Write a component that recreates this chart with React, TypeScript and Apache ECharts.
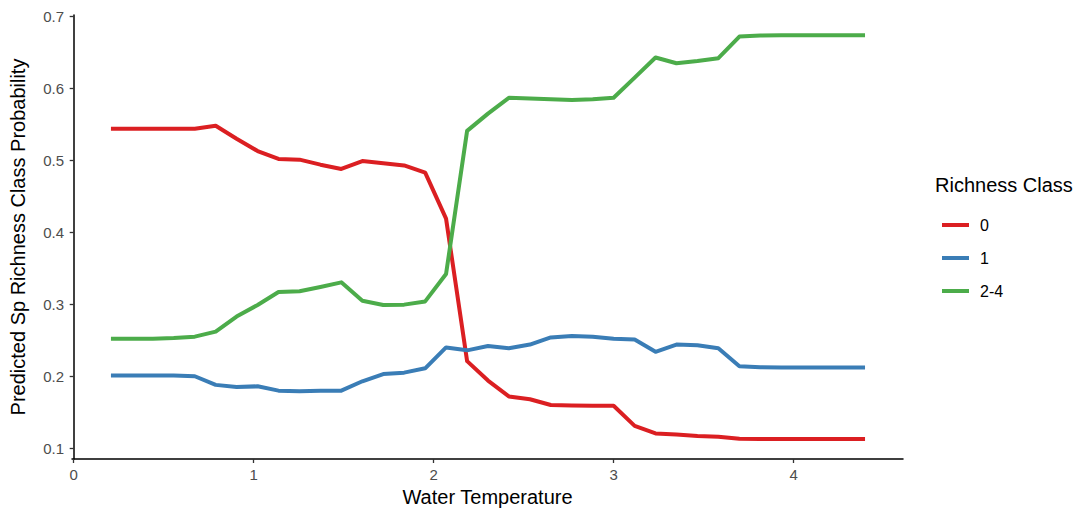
import React, { useEffect, useRef } from "react";
import * as echarts from "echarts";

const waterTemp = [
  0.207, 0.323, 0.44, 0.556, 0.673, 0.789, 0.905, 1.022, 1.138, 1.255, 1.371, 1.487,
  1.604, 1.72, 1.836, 1.953, 2.069, 2.186, 2.302, 2.418, 2.535, 2.651, 2.768, 2.884,
  3.0, 3.117, 3.233, 3.349, 3.466, 3.582, 3.699, 3.815, 3.931, 4.048, 4.164, 4.281, 4.397,
];

const class0 = [
  0.544, 0.544, 0.544, 0.544, 0.544, 0.548, 0.53, 0.513, 0.502, 0.501, 0.494, 0.488,
  0.499, 0.496, 0.493, 0.483, 0.419, 0.221, 0.194, 0.172, 0.168, 0.16, 0.1595, 0.159,
  0.159, 0.131, 0.1205, 0.119, 0.117, 0.116, 0.113, 0.1127, 0.1127, 0.1127, 0.1127, 0.1127, 0.1127,
];

const class1 = [
  0.201, 0.201, 0.201, 0.201, 0.2, 0.188, 0.185, 0.186, 0.18, 0.179, 0.18, 0.18,
  0.193, 0.203, 0.205, 0.211, 0.24, 0.236, 0.242, 0.239, 0.244, 0.254, 0.256, 0.255,
  0.252, 0.251, 0.234, 0.244, 0.243, 0.239, 0.214, 0.2125, 0.212, 0.212, 0.212, 0.212, 0.212,
];

const class24 = [
  0.252, 0.252, 0.252, 0.253, 0.255, 0.262, 0.283, 0.299, 0.317, 0.318, 0.324, 0.3305,
  0.305, 0.299, 0.2995, 0.304, 0.342, 0.541, 0.565, 0.587, 0.586, 0.585, 0.584, 0.585,
  0.587, 0.615, 0.643, 0.635, 0.638, 0.642, 0.672, 0.6735, 0.674, 0.674, 0.674, 0.674, 0.674,
];

const classNames = ["0", "1", "2-4"];
const classColors = ["#DB1F22", "#3A7DB6", "#4CAC4A"];
const yTicks = [0.1, 0.2, 0.3, 0.4, 0.5, 0.6, 0.7];
const xTicks = [0, 1, 2, 3, 4];

const FONT = "'Liberation Sans', Arial, Helvetica, sans-serif";

export default function App() {
  const ref = useRef<HTMLDivElement>(null);

  useEffect(() => {
    if (!ref.current) return;
    const chart = echarts.init(ref.current, null, { renderer: "svg" });
    const seriesValues = [class0, class1, class24];
    chart.setOption({
      animation: false,
      backgroundColor: "#ffffff",
      textStyle: { fontFamily: FONT },
      grid: { left: 70, top: 15, width: 833, height: 444, containLabel: false },
      xAxis: {
        type: "value",
        min: -0.0094,
        max: 4.608,
        name: "Water Temperature",
        nameLocation: "middle",
        nameGap: 25,
        nameTextStyle: { fontSize: 20, color: "#000000", fontFamily: FONT },
        axisLine: { show: true, lineStyle: { color: "#000000", width: 1.5 } },
        axisTick: {
          show: true,
          length: 4,
          lineStyle: { color: "#333333", width: 1.3 },
          customValues: xTicks,
        },
        axisLabel: {
          fontSize: 15,
          color: "#4D4D4D",
          margin: 8,
          fontFamily: FONT,
          customValues: xTicks,
          formatter: (v: number) => String(v),
        },
        splitLine: { show: false },
      },
      yAxis: {
        type: "value",
        min: 0.085,
        max: 0.702,
        name: "Predicted Sp Richness Class Probability",
        nameLocation: "middle",
        nameGap: 44,
        nameRotate: 90,
        nameTextStyle: { fontSize: 20, color: "#000000", fontFamily: FONT },
        axisLine: { show: true, lineStyle: { color: "#000000", width: 1.5 } },
        axisTick: {
          show: true,
          length: 4,
          lineStyle: { color: "#333333", width: 1.3 },
          customValues: yTicks,
        },
        axisLabel: {
          fontSize: 15,
          color: "#4D4D4D",
          margin: 8,
          fontFamily: FONT,
          customValues: yTicks,
          formatter: (v: number) => v.toFixed(1),
        },
        splitLine: { show: false },
      },
      legend: {
        orient: "vertical",
        left: 937,
        top: 211,
        icon: "rect",
        itemWidth: 27,
        itemHeight: 4,
        itemGap: 15,
        textStyle: { fontSize: 16, color: "#000000", lineHeight: 18, fontFamily: FONT, padding: [0, 0, 0, 6] },
        data: classNames,
      },
      graphic: [
        {
          type: "text",
          left: 935,
          top: 175,
          style: { text: "Richness Class", fontSize: 20, fill: "#000000", fontFamily: FONT },
        },
      ],
      series: classNames.map((name, k) => ({
        name,
        type: "line",
        data: waterTemp.map((x, i) => [x, seriesValues[k][i]]),
        showSymbol: false,
        symbol: "none",
        color: classColors[k],
        lineStyle: { color: classColors[k], width: 4, join: "round" },
        z: 2 + k,
      })),
    });
    return () => chart.dispose();
  }, []);

  return (
    <div
      ref={ref}
      style={{ position: "absolute", left: 0, top: 0, width: 1085, height: 512 }}
    />
  );
}
